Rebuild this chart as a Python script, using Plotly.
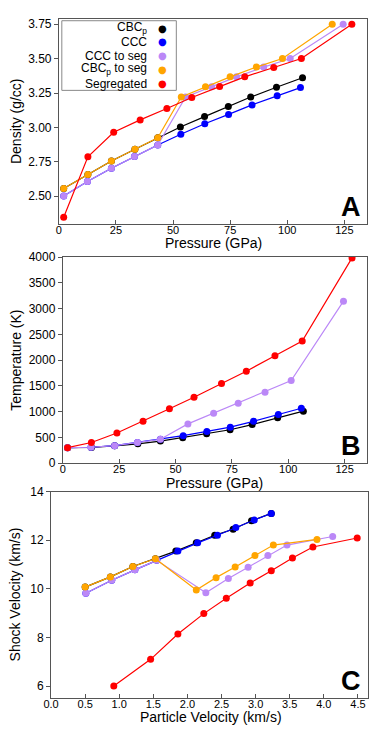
import plotly.graph_objects as go

W, H = 374, 731
FONT = "Liberation Sans, Arial, Helvetica, sans-serif"

# ---------------------------------------------------------------
# Panels A and B : pressure (GPa), density (g/cc), temperature (K)
# ---------------------------------------------------------------
cbcp_P   = [2.1, 12.7, 23.0, 33.3, 43.3, 53.2, 63.8, 74.2, 84.0, 95.3, 106.7]
cbcp_rho = [2.557, 2.659, 2.756, 2.842, 2.925, 3.003, 3.079, 3.152, 3.221, 3.292, 3.361]
cbcp_T   = [300, 305, 335, 374, 428, 494, 570, 647, 748, 881, 1008]

ccc_P    = [2.1, 12.5, 23.0, 33.1, 43.3, 53.4, 63.9, 74.3, 84.6, 95.6, 105.8]
ccc_rho  = [2.502, 2.607, 2.704, 2.789, 2.872, 2.951, 3.027, 3.095, 3.164, 3.230, 3.290]
ccc_T    = [300, 308, 338, 400, 463, 532, 615, 697, 811, 944, 1065]

cccseg_P   = [2.1, 12.5, 23.0, 33.1, 43.3, 55.5, 66.9, 77.8, 89.7, 101.3, 124.5]
cccseg_rho = [2.502, 2.607, 2.704, 2.789, 2.872, 3.221, 3.295, 3.368, 3.439, 3.501, 3.750]
cccseg_T   = [300, 308, 338, 400, 463, 761, 970, 1160, 1376, 1604, 3144]

cbcpseg_P   = [2.1, 12.7, 23.0, 33.3, 43.3, 53.6, 64.2, 75.0, 86.5, 97.9, 119.7]
cbcpseg_rho = [2.557, 2.659, 2.756, 2.842, 2.925, 3.221, 3.295, 3.368, 3.439, 3.501, 3.750]

seg_P   = [2.1, 12.7, 24.0, 35.6, 47.3, 58.2, 70.4, 81.4, 94.1, 106.2, 128.3]
seg_rho = [2.348, 2.787, 2.965, 3.055, 3.138, 3.218, 3.297, 3.368, 3.436, 3.501, 3.750]
seg_T   = [300, 400, 585, 815, 1055, 1280, 1545, 1785, 2085, 2370, 3985]

# ---------------------------------------------------------------
# Panel C : particle velocity / shock velocity (km/s)
# ---------------------------------------------------------------
cbcp_up    = [0.50, 0.87, 1.20, 1.53, 1.83, 2.13, 2.40, 2.67, 2.94, 3.23]
cbcp_us    = [10.07, 10.49, 10.92, 11.24, 11.55, 11.89, 12.20, 12.45, 12.80, 13.10]
ccc_up     = [0.51, 0.89, 1.23, 1.55, 1.86, 2.15, 2.44, 2.71, 2.98, 3.23]
ccc_us     = [9.82, 10.35, 10.78, 11.17, 11.55, 11.89, 12.20, 12.52, 12.83, 13.10]
cccseg_up  = [0.51, 0.89, 1.23, 1.55, 2.27, 2.60, 2.89, 3.18, 3.46, 4.13]
cccseg_us  = [9.82, 10.35, 10.78, 11.17, 9.84, 10.42, 10.89, 11.37, 11.80, 12.15]
cbcpseg_up = [0.50, 0.87, 1.20, 1.53, 2.13, 2.42, 2.70, 2.99, 3.26, 3.90]
cbcpseg_us = [10.07, 10.49, 10.92, 11.24, 9.95, 10.46, 10.90, 11.37, 11.80, 12.03]
seg_up     = [0.92, 1.46, 1.86, 2.24, 2.57, 2.92, 3.23, 3.54, 3.84, 4.49]
seg_us     = [6.00, 7.10, 8.14, 8.98, 9.61, 10.24, 10.74, 11.27, 11.72, 12.09]

names  = ["CBC<sub>p</sub>", "CCC", "CCC to seg", "CBC<sub>p</sub> to seg", "Segregated"]
colors = ["black", "#0000ff", "#bb88f7", "#ffa500", "#ff0000"]

panel_A = [(cbcp_P, cbcp_rho), (ccc_P, ccc_rho), (cccseg_P, cccseg_rho),
           (cbcpseg_P, cbcpseg_rho), (seg_P, seg_rho)]
panel_B = [(cbcp_P, cbcp_T), (ccc_P, ccc_T), (cccseg_P, cccseg_T),
           None, (seg_P, seg_T)]
panel_C = [(cbcp_up, cbcp_us), (ccc_up, ccc_us), (cccseg_up, cccseg_us),
           (cbcpseg_up, cbcpseg_us), (seg_up, seg_us)]

fig = go.Figure()

for k, panel in enumerate([panel_A, panel_B, panel_C]):
    sfx = "" if k == 0 else str(k + 1)
    for i, series in enumerate(panel):
        if series is None:
            continue
        fig.add_trace(go.Scatter(x=series[0], y=series[1],
                                 mode="lines+markers",
                                 xaxis="x" + sfx, yaxis="y" + sfx,
                                 line=dict(color=colors[i], width=1.2),
                                 marker=dict(color=colors[i], size=7),
                                 name=names[i],
                                 showlegend=False))


def dom_x(a, b):
    return [a / W, b / W]


def dom_y(top, bottom):
    return [1 - bottom / H, 1 - top / H]


base = dict(showline=True, linecolor="#555", linewidth=1, mirror=True,
            ticklen=4, tickcolor="#555",
            showgrid=False, zeroline=False,
            tickfont=dict(family=FONT, size=12, color="black"),
            title_font=dict(family=FONT, size=14, color="black"))

# (x domain px, y domain px, x range, y range, ticks, titles)
panels = [
    dict(xd=(52, 367), yd=(12, 221), xr=[0, 135], yr=[2.30, 3.79],
         xt=dict(tick0=0, dtick=25), yt=dict(tick0=2.5, dtick=0.25, tickformat=".2f"),
         xtitle="Pressure (GPa)", xtpos=(210, 241),
         ytitle="Density (g/cc)", ystand=3, letter="A"),
    dict(xd=(56, 367), yd=(255, 465), xr=[0, 135], yr=[0, 4000],
         xt=dict(tick0=0, dtick=25), yt=dict(tick0=0, dtick=500),
         xtitle="Pressure (GPa)", xtpos=(211, 485),
         ytitle="Temperature (K)", ystand=3, letter="B"),
    dict(xd=(44, 368), yd=(494, 704), xr=[0, 4.65], yr=[5.53, 14],
         xt=dict(tick0=0, dtick=0.5, tickformat=".1f"), yt=dict(tick0=6, dtick=2),
         xtitle="Particle Velocity (km/s)", xtpos=(207, 724),
         ytitle="Shock Velocity (km/s)", ystand=6, letter="C"),
]

for k, p in enumerate(panels):
    sfx = "" if k == 0 else str(k + 1)
    osfx = str(k + 4)
    fig.update_layout({
        "xaxis" + sfx: dict(base, domain=dom_x(*p["xd"]), range=p["xr"],
                            anchor="y" + sfx, tickmode="linear", ticks="inside",
                            tickfont=dict(family=FONT, size=11, color="black"),
                            ticklabelstandoff=-4, **p["xt"]),
        "yaxis" + sfx: dict(base, domain=dom_y(*p["yd"]), range=p["yr"],
                            anchor="x" + sfx, tickmode="linear", ticks="outside",
                            title=dict(text=p["ytitle"], standoff=p["ystand"]), **p["yt"]),
        # inward ticks on top and right
        "xaxis" + osfx: dict(overlaying="x" + sfx, anchor="y" + sfx, side="top",
                             range=p["xr"], tickmode="linear", ticks="inside",
                             ticklen=4, tickcolor="#555", showticklabels=False,
                             showgrid=False, zeroline=False, showline=False, **p["xt"]),
        "yaxis" + osfx: dict(overlaying="y" + sfx, anchor="x" + sfx, side="right",
                             range=p["yr"], tickmode="linear", ticks="inside",
                             ticklen=4, tickcolor="#555", showticklabels=False,
                             showgrid=False, zeroline=False, showline=False, **p["yt"]),
    })
    # x title placed by hand (sits close under the tick labels)
    fig.add_annotation(text=p["xtitle"], xref="paper", yref="paper",
                       x=p["xtpos"][0] / W, y=1 - p["xtpos"][1] / H,
                       xanchor="center", yanchor="middle", showarrow=False,
                       font=dict(family=FONT, size=14, color="black"))
    fig.add_annotation(text="<b>%s</b>" % p["letter"], xref="x%s domain" % sfx,
                       yref="y%s domain" % sfx, x=0.985, y=0.0,
                       xanchor="right", yanchor="bottom", showarrow=False,
                       font=dict(family=FONT, size=27, color="black"))

# legend box drawn by hand so markers sit on the right of the labels
fig.add_shape(type="rect", xref="paper", yref="paper",
              x0=55 / W, x1=172 / W, y0=1 - 85 / H, y1=1 - 14 / H,
              line=dict(color="#888", width=1), fillcolor="white", layer="above")

legend_y = [21.5, 35.5, 49.5, 63.5, 78]
for i, name in enumerate(names):
    fig.add_annotation(text=name, xref="paper", yref="paper",
                       x=144 / W, y=1 - legend_y[i] / H,
                       xanchor="right", yanchor="middle", showarrow=False,
                       font=dict(family=FONT, size=12, color="black"))
    fig.add_annotation(text="\u25cf", xref="paper", yref="paper",
                       x=158 / W, y=1 - legend_y[i] / H,
                       xanchor="center", yanchor="middle", showarrow=False,
                       font=dict(family="DejaVu Sans", size=10, color=colors[i]))

fig.update_layout(width=W, height=H,
                  margin=dict(l=0, r=0, t=0, b=0),
                  paper_bgcolor="white", plot_bgcolor="white",
                  font=dict(family=FONT, color="black"),
                  showlegend=False)

# the page body keeps its default 8px margin otherwise
fig.write_html("out.html", config={"displayModeBar": False},
               post_script="document.body.style.margin='0px';")
